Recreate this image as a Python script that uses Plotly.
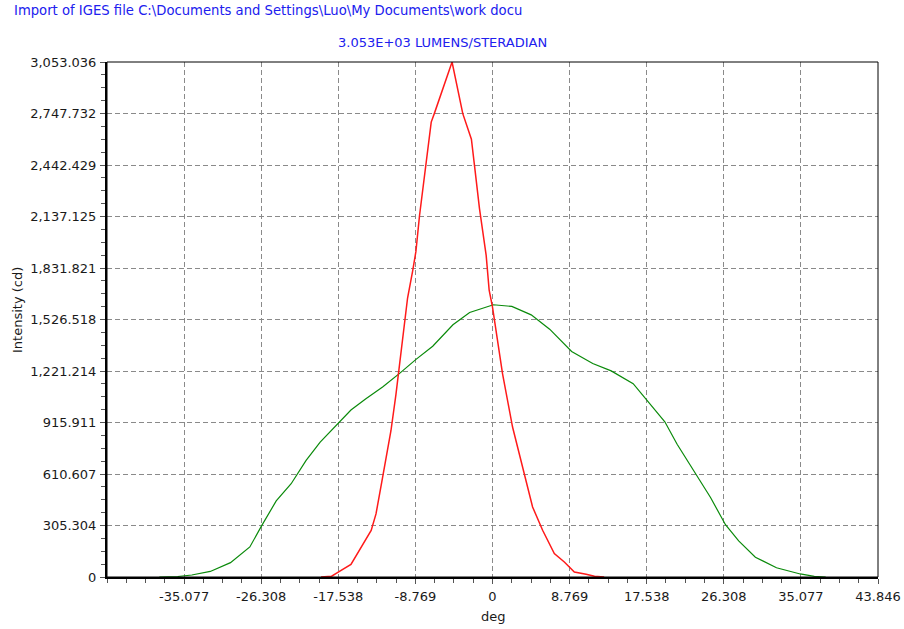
import plotly.graph_objects as go

# Angular intensity profiles (deg, cd)
red_deg = [-19.5, -18.3, -17.5, -16.1, -13.8, -13.25, -12.5, -11.55, -10.98, -10.23,
           -9.66, -9.09, -8.71, -8.3, -7.93, -7.55, -6.97, -6.6, -4.6, -3.38, -2.4,
           -2.05, -1.48, -0.72, -0.38, 0.0, 1.14, 2.28, 3.61, 4.56, 5.7, 7.03, 8.17,
           9.31, 10.65, 11.6, 12.7]
red_cd = [0, 5, 30, 75, 276, 374, 591, 867, 1083, 1418,
          1654, 1812, 1930, 2143, 2292, 2440, 2697, 2750, 3053.036, 2747, 2595,
          2440, 2184, 1907, 1700, 1600, 1206, 889, 613, 415, 277, 139, 89,
          30, 16, 4, 0]

green_deg = [-37.9, -35.8, -34.2, -32.1, -29.8, -27.6, -26.3, -24.6, -22.9, -21.2,
             -19.6, -17.4, -16.1, -14.4, -12.5, -10.5, -8.7, -6.8, -4.5, -2.6,
             0.1, 2.2, 4.4, 6.5, 9.0, 11.4, 13.5, 16.0, 17.5, 19.6,
             21.0, 22.9, 24.8, 26.5, 28.0, 29.9, 32.3, 35.0, 36.6, 37.9]
green_cd = [0, 3, 12, 33, 85, 178, 300, 451, 553, 691,
            800, 920, 990, 1057, 1126, 1210, 1290, 1368, 1495, 1568,
            1614, 1604, 1554, 1469, 1337, 1266, 1222, 1146, 1054, 920,
            787, 629, 471, 310, 214, 117, 55, 18, 4, 0]

x_tickvals = [-35.0768, -26.3076, -17.5384, -8.7692, 0, 8.7692, 17.5384, 26.3076, 35.0768, 43.846]
x_ticktext = ["-35.077", "-26.308", "-17.538", "-8.769", "0", "8.769", "17.538", "26.308", "35.077", "43.846"]
y_tickvals = [0, 305.3036, 610.6072, 915.9108, 1221.2144, 1526.518, 1831.8216,
              2137.1252, 2442.4288, 2747.7324, 3053.036]
y_ticktext = ["0", "305.304", "610.607", "915.911", "1,221.214", "1,526.518", "1,831.821",
              "2,137.125", "2,442.429", "2,747.732", "3,053.036"]

title_text = "Import of IGES file C:\\Documents and Settings\\Luo\\My Documents\\work docu"
subtitle_text = "3.053E+03 LUMENS/STERADIAN"

FONT = "DejaVu Sans"
W, H = 904, 629
L, R, T, B = 107, 26, 62, 52
pw, ph = W - L - R, H - T - B


def px_x(px):
    return (px - L) / pw


def px_y(py):
    return (H - B - py) / ph


fig = go.Figure()
fig.add_trace(go.Scatter(x=green_deg, y=green_cd, mode="lines",
                         line=dict(color="#0a8a0a", width=1.2), showlegend=False))
fig.add_trace(go.Scatter(x=red_deg, y=red_cd, mode="lines",
                         line=dict(color="#ff1a1a", width=1.5), showlegend=False))

axis_common = dict(
    showline=True, linecolor="black", linewidth=2, automargin=False,
    showgrid=True, gridcolor="#8a8a8a", gridwidth=1, griddash="5px,3px",
    zeroline=False, ticks="outside", ticklen=5, tickcolor="#555555", tickwidth=1,
    tickfont=dict(family=FONT, size=13, color="#1a1a1a"),
)

fig.update_xaxes(range=[-43.846, 43.846], tickmode="array",
                 tickvals=x_tickvals, ticktext=x_ticktext,
                 minor=dict(ticks="outside", ticklen=4, dtick=8.7692 / 4, tick0=0,
                            tickcolor="#555555", showgrid=False),
                 ticklabelstandoff=1, **axis_common)
fig.update_yaxes(range=[0, 3053.036], tickmode="array",
                 tickvals=y_tickvals, ticktext=y_ticktext,
                 minor=dict(ticks="outside", ticklen=4, dtick=305.3036 / 4, tick0=0,
                            tickcolor="#555555", showgrid=False),
                 ticklabelstandoff=1, **axis_common)

# thin frame on the top and right sides of the plotting area
fig.add_shape(type="rect", xref="paper", yref="paper", x0=0, x1=1, y0=0, y1=1,
              line=dict(color="black", width=1), layer="above")

annotations = [
    dict(text=title_text, x=px_x(12), y=px_y(11), xanchor="left", yanchor="middle",
         font=dict(family=FONT, size=13.2, color="#2020ee")),
    dict(text=subtitle_text, x=px_x(442), y=px_y(42), xanchor="center", yanchor="middle",
         font=dict(family=FONT, size=13, color="#2020ee")),
    dict(text="Intensity (cd)", x=px_x(17), y=px_y(310), xanchor="center", yanchor="middle",
         textangle=-90, font=dict(family=FONT, size=13, color="#1a1a1a")),
    dict(text="deg", x=px_x(493), y=px_y(616), xanchor="center", yanchor="middle",
         font=dict(family=FONT, size=13, color="#1a1a1a")),
]
for a in annotations:
    fig.add_annotation(xref="paper", yref="paper", showarrow=False, **a)

fig.update_layout(
    width=W, height=H,
    margin=dict(l=L, r=R, t=T, b=B, autoexpand=False),
    paper_bgcolor="white", plot_bgcolor="white",
)

fig.write_html("out.html")
